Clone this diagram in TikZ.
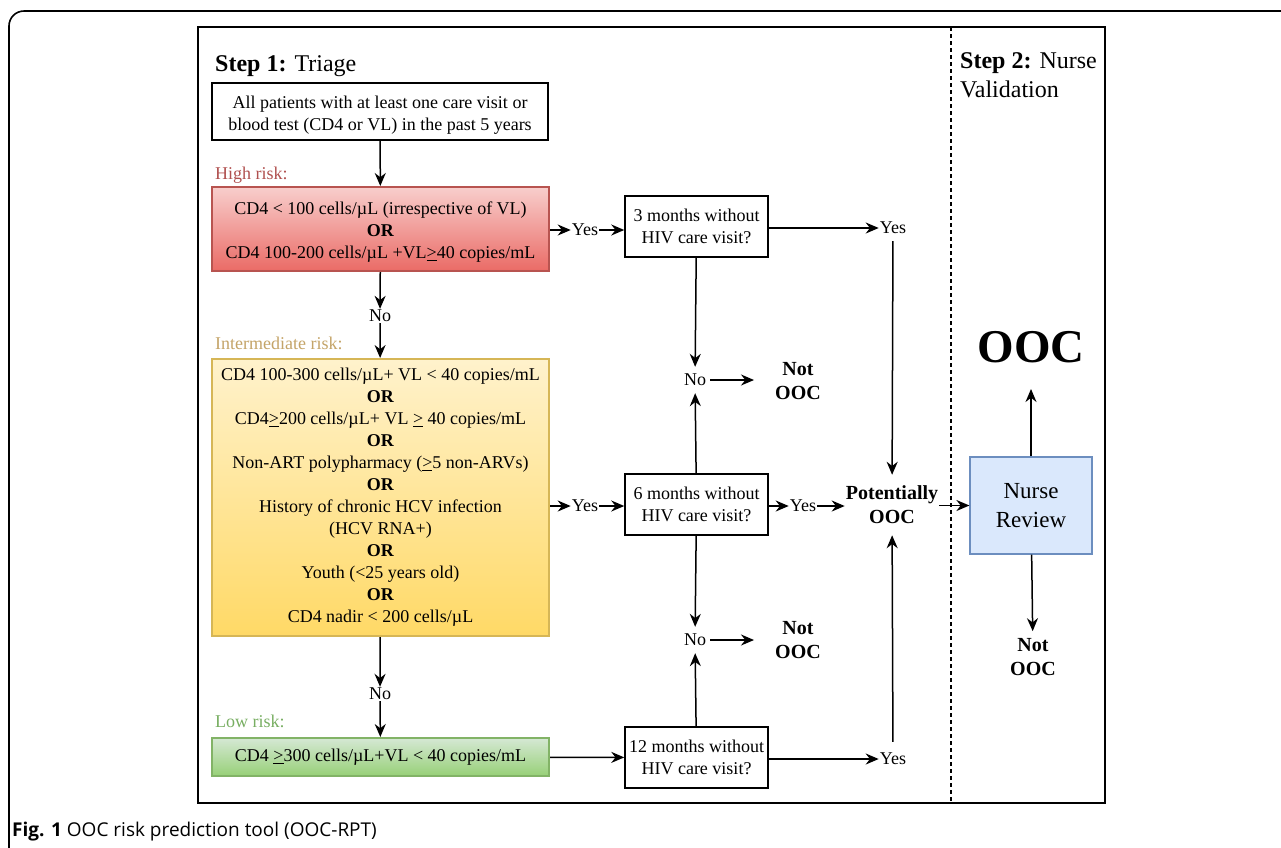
\documentclass[tikz,border=0pt]{standalone}
\usepackage{fontspec}
\setmainfont{Liberation Serif}
\newfontfamily\serf{Liberation Serif}
\newfontfamily\capfont{Open Sans}
\usetikzlibrary{arrows.meta}
\definecolor{redT}{HTML}{F8CECC}
\definecolor{redB}{HTML}{EA6B66}
\definecolor{redD}{HTML}{B85450}
\definecolor{yelT}{HTML}{FFF2CC}
\definecolor{yelB}{HTML}{FFD966}
\definecolor{yelD}{HTML}{D6B656}
\definecolor{grnT}{HTML}{D5E8D4}
\definecolor{grnB}{HTML}{97D077}
\definecolor{grnD}{HTML}{82B366}
\definecolor{bluF}{HTML}{DAE8FC}
\definecolor{bluD}{HTML}{6C8EBF}
\definecolor{highC}{HTML}{B0504F}
\definecolor{interC}{HTML}{C4A468}
\definecolor{lowC}{HTML}{78AE62}
\tikzset{
  body/.style={font=\serf\fontsize{18}{22}\selectfont, align=center},
  box/.style={body, draw, line width=1.5pt, inner sep=0pt},
  cbox/.style={box, line width=2pt},
  lab/.style={body, inner sep=1pt},
  big/.style={font=\serf\fontsize{20}{24}\selectfont\bfseries, align=center, inner sep=1pt},
  arr/.style={-{Stealth[length=13pt,width=11pt]}, line width=1.5pt},
  risk/.style={font=\serf\fontsize{18}{22}\selectfont, anchor=base west, inner sep=0pt},
}
\newcommand{\geu}{\underline{>}}
\begin{document}
\begin{tikzpicture}[x=1pt,y=-1pt]
\useasboundingbox (0,0) rectangle (1281,847);
% outer frame
\draw[line width=1.6pt, rounded corners=15pt] (9,850) -- (9,11) -- (1284,11);
% main frame
\draw[line width=1.4pt] (198,27) rectangle (1105,803);
\draw[line width=1.2pt, dashed, dash pattern=on 4pt off 3pt] (951,27) -- (951,803);
% titles
\node[anchor=base west, inner sep=0pt, font=\serf\fontsize{24}{29}\selectfont] (s1) at (215,71) {\textbf{Step 1:} Triage};
\node[anchor=north west, inner sep=0pt, align=left, font=\serf\fontsize{24}{29}\selectfont] (s2) at (960,52) {\textbf{Step 2:} Nurse\\Validation};
% left column
\node[box, minimum width=336pt, minimum height=57pt] (top) at (380,111.5) {\rule{0pt}{20pt}All patients with at least one care visit or\\blood test (CD4 or VL) in the past 5 years};
\node[risk, text=highC] (hr) at (215,179) {High risk:};
\node[cbox, draw=redD, top color=redT, bottom color=redB, minimum width=337pt, minimum height=84pt] (high) at (380.5,229)
 {\rule{0pt}{19pt}CD4 < 100 cells/µL (irrespective of VL)\\\textbf{OR}\\CD4 100-200 cells/µL +VL\geu40 copies/mL};
\node[lab] (no1) at (380,316) {No};
\node[risk, text=interC] (ir) at (215,349) {Intermediate risk:};
\node[cbox, draw=yelD, top color=yelT, bottom color=yelB, minimum width=337pt, minimum height=277pt] (inter) at (380.5,497.5)
 {CD4 100-300 cells/µL+ VL < 40 copies/mL\\\textbf{OR}\\CD4\geu200 cells/µL+ VL \geu{} 40 copies/mL\\\textbf{OR}\\Non-ART polypharmacy (\geu5 non-ARVs)\\\textbf{OR}\\History of chronic HCV infection\\(HCV RNA+)\\\textbf{OR}\\Youth (<25 years old)\\\textbf{OR}\\CD4 nadir < 200 cells/µL};
\node[lab] (no2) at (380,694) {No};
\node[risk, text=lowC] (lr) at (215,727) {Low risk:};
\node[cbox, draw=grnD, top color=grnT, bottom color=grnB, minimum width=337pt, minimum height=38pt] (low) at (380.5,757)
 {CD4 \geu300 cells/µL+VL < 40 copies/mL};
% middle column
\node[lab] (yes1) at (585,230) {Yes};
\node[lab] (yes2) at (585,506) {Yes};
\node[box, minimum width=143pt, minimum height=61pt] (m3) at (696.5,226.5) {3 months without\\HIV care visit?};
\node[box, minimum width=143pt, minimum height=61pt] (m6) at (696.5,504.5) {6 months without\\HIV care visit?};
\node[box, minimum width=143pt, minimum height=61pt] (m12) at (696.5,757.5) {12 months without\\HIV care visit?};
\node[lab] (no3) at (695,380) {No};
\node[lab] (no4) at (695,640) {No};
\node[big] (n1) at (798,381) {Not\\OOC};
\node[big] (n2) at (798,640) {Not\\OOC};
\node[lab] (yes3) at (893,228) {Yes};
\node[lab] (yes4) at (803,506) {Yes};
\node[lab] (yes5) at (893,759) {Yes};
\node[big] (pot) at (892,505) {Potentially\\OOC};
% right column
\node[box, draw=bluD, fill=bluF, line width=1.2pt, minimum width=122pt, minimum height=97pt, font=\serf\fontsize{23}{29}\selectfont] (nurse) at (1031,505.5) {Nurse\\Review};
\node[inner sep=0pt, font=\serf\fontsize{47}{50}\selectfont\bfseries] (ooc) at (1031,347) {OOC};
\node[big] (n3) at (1033,657) {Not\\OOC};
% caption
\node[anchor=base west, inner sep=0pt, font=\capfont\fontsize{19}{22}\selectfont] (cap) at (12,836) {\textbf{Fig. 1} OOC risk prediction tool (OOC-RPT)};
% connectors
\draw[arr] (top) -- (high);
\draw[arr] (high) -- (no1);
\draw[arr] (no1) -- (inter);
\draw[arr] (inter) -- (no2);
\draw[arr] (no2) -- (low);
\draw[arr] (high.east |- yes1) -- (yes1);
\draw[arr] (yes1) -- (m3.west |- yes1);
\draw[arr] (inter.east |- yes2) -- (yes2);
\draw[arr] (yes2) -- (m6.west |- yes2);
\draw[arr] (low) -- (m12);
\draw[arr, shorten >=6pt] (m3) -- (no3);
\draw[arr, shorten >=6pt] (m6) -- (no3);
\draw[arr, shorten >=6pt] (m6) -- (no4);
\draw[arr, shorten >=6pt] (m12) -- (no4);
\draw[arr, shorten <=3pt, shorten >=20pt] (no3) -- (no3 -| n1.west);
\draw[arr, shorten <=3pt, shorten >=20pt] (no4) -- (no4 -| n2.west);
\draw[arr] (m3.east |- yes3) -- (yes3);
\draw[arr, shorten <=6pt, shorten >=10pt] (yes3) -- (pot);
\draw[arr] (m6.east |- yes4) -- (yes4);
\draw[arr] (yes4) -- (pot.west |- yes4);
\draw[arr] (m12.east |- yes5) -- (yes5);
\draw[arr, shorten <=10pt, shorten >=10pt] (yes5) -- (pot);
\draw[arr] (pot.east |- nurse) -- (nurse);
\draw[arr, shorten >=26pt] (nurse) -- (ooc);
\draw[arr, shorten >=6pt] (nurse) -- (n3);
\end{tikzpicture}
\end{document}
